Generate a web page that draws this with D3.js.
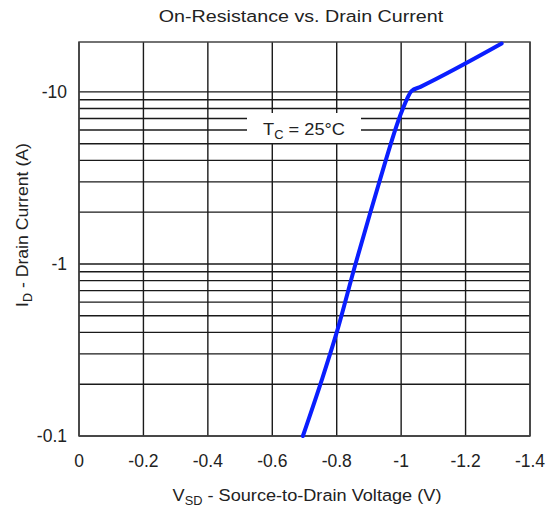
<!DOCTYPE html>
<html>
<head>
  <title>On-Resistance vs. Drain Current</title>
  <script src="https://d3js.org/d3.v7.min.js"></script>
  <style>
    body { margin: 0; background: #fff; }
    text { font-family: "Liberation Sans", Arial, sans-serif; fill: #222; }
    .grid { stroke: #1a1a1a; stroke-width: 1.4px; }
    .curve { fill: none; stroke: #0a1eff; stroke-width: 4px; stroke-linecap: round; }
  </style>
</head>
<body>
  <script>
    var width = 558,
        height = 512;

    // source-to-drain voltage (V) and drain current (A)
    var vsd = [-0.695, -0.753, -0.80, -0.857, -0.903, -0.934, -0.996, -1.017, -1.032, -1.06, -1.312];
    var id  = [-0.1, -0.21, -0.40, -0.98, -1.95, -3.07, -7.2, -9.0, -10.1, -10.7, -19.1];

    var xTicks = [0, -0.2, -0.4, -0.6, -0.8, -1, -1.2, -1.4];
    var yTicks = [-0.1, -1, -10];
    var yGrid = [-0.1, -0.2, -0.3, -0.4, -0.5, -0.6, -0.7, -0.8, -0.9,
                 -1, -2, -3, -4, -5, -6, -7, -8, -9, -10];

    var margin = {left: 79, right: 28, top: 42, bottom: 76};

    var svg = d3.select("body").append("svg")
        .attr("width", width)
        .attr("height", height);

    var x = d3.scaleLinear()
        .domain([0, -1.4])
        .range([margin.left, width - margin.right]);

    // current is negative; plot |I| on a log scale
    var y = d3.scaleLog()
        .domain([0.1, 19.5])
        .range([height - margin.bottom, margin.top]);

    var plotTop = margin.top, plotBottom = height - margin.bottom;

    // the source text is a bit wider than Arial, stretch it to fit
    function stretch(t, w) {
      var bw = t.node().getBBox().width;
      var cur = t.attr("transform") || "";
      var ax = +t.attr("x"), ay = +t.attr("y");
      t.attr("transform", cur + " translate(" + ax + "," + ay + ") scale(" + (w / bw) + ",1) translate(" + (-ax) + "," + (-ay) + ")");
    }

    // horizontal grid
    svg.selectAll(".hgrid")
        .data(yGrid)
        .enter().append("line")
        .attr("class", "grid")
        .attr("x1", x(0)).attr("x2", x(-1.4))
        .attr("y1", function(d) { return y(-d); })
        .attr("y2", function(d) { return y(-d); });

    // vertical grid
    svg.selectAll(".vgrid")
        .data(xTicks)
        .enter().append("line")
        .attr("class", "grid")
        .attr("x1", function(d) { return x(d); })
        .attr("x2", function(d) { return x(d); })
        .attr("y1", plotTop).attr("y2", plotBottom);

    // frame
    svg.append("rect")
        .attr("x", x(0)).attr("y", plotTop)
        .attr("width", x(-1.4) - x(0))
        .attr("height", plotBottom - plotTop)
        .attr("fill", "none")
        .attr("stroke", "#444")
        .attr("stroke-width", 1.5);

    // annotation box
    svg.append("rect")
        .attr("x", 247).attr("y", 113)
        .attr("width", 114).attr("height", 30)
        .attr("fill", "#fff");

    var ann = svg.append("text")
        .attr("x", 304).attr("y", 135)
        .attr("text-anchor", "middle")
        .style("font-size", "17px");
    ann.append("tspan").text("T");
    ann.append("tspan").attr("dy", 4).style("font-size", "12px").text("C");
    ann.append("tspan").attr("dy", -4).text(" = 25°C");
    stretch(ann, 82);

    // curve
    var pts = vsd.map(function(v, i) { return [v, id[i]]; });
    var line = d3.line()
        .x(function(d) { return x(d[0]); })
        .y(function(d) { return y(-d[1]); })
        .curve(d3.curveMonotoneX);

    svg.append("path")
        .datum(pts)
        .attr("class", "curve")
        .attr("d", line);

    // tick labels
    svg.selectAll(".xlab")
        .data(xTicks)
        .enter().append("text")
        .attr("x", function(d) { return x(d); })
        .attr("y", 467)
        .attr("text-anchor", "middle")
        .style("font-size", "17.5px")
        .text(function(d) { return d === 0 ? "0" : String(d); });

    svg.selectAll(".ylab")
        .data(yTicks)
        .enter().append("text")
        .attr("x", 67)
        .attr("y", function(d) { return y(-d) + 6; })
        .attr("text-anchor", "end")
        .style("font-size", "17.5px")
        .text(function(d) { return String(d); });

    // title
    var title = svg.append("text")
        .attr("x", 301).attr("y", 22)
        .attr("text-anchor", "middle")
        .style("font-size", "17px")
        .text("On-Resistance vs. Drain Current");
    stretch(title, 285);

    // x axis title
    var xt = svg.append("text")
        .attr("x", 307).attr("y", 501)
        .attr("text-anchor", "middle")
        .style("font-size", "17px");
    xt.append("tspan").text("V");
    xt.append("tspan").attr("dy", 4).style("font-size", "12px").text("SD");
    xt.append("tspan").attr("dy", -4).text(" - Source-to-Drain Voltage (V)");
    stretch(xt, 269);

    // y axis title
    var yt = svg.append("text")
        .attr("x", 0).attr("y", 0)
        .attr("transform", "translate(28,225) rotate(-90)")
        .attr("text-anchor", "middle")
        .style("font-size", "17px");
    yt.append("tspan").text("I");
    yt.append("tspan").attr("dy", 4).style("font-size", "12px").text("D");
    yt.append("tspan").attr("dy", -4).text(" - Drain Current (A)");
    stretch(yt, 164);
  </script>
</body>
</html>
